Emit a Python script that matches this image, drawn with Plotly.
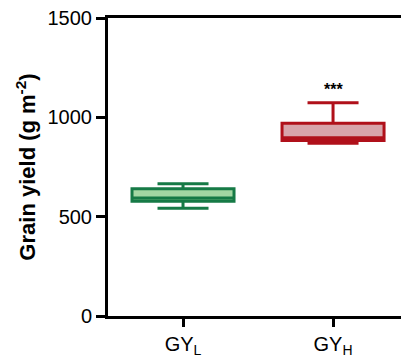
import plotly.graph_objects as go

categories = ["GY<sub>L</sub>", "GY<sub>H</sub>"]
lower = [542, 870]
q1 = [578, 884]
median = [594, 897]
q3 = [640, 970]
upper = [666, 1074]
line_colors = ["#167a46", "#b0101a"]
fill_colors = ["#a3d7a3", "#d8a4aa"]
sig_labels = ["", "***"]
yticks = [0, 500, 1000, 1500]

fig = go.Figure()
for i, c in enumerate(categories):
    fig.add_trace(go.Box(
        x=[c], q1=[q1[i]], median=[median[i]], q3=[q3[i]],
        lowerfence=[lower[i]], upperfence=[upper[i]],
        width=0.68, whiskerwidth=0.5,
        line=dict(color=line_colors[i], width=3),
        fillcolor=fill_colors[i], showlegend=False, boxpoints=False,
        hoverinfo="skip",
    ))
    if sig_labels[i]:
        fig.add_annotation(x=c, y=upper[i], text="<b>" + sig_labels[i] + "</b>", showarrow=False,
                           yshift=13, font=dict(family="Liberation Sans, Arial", size=16, color="black"))

fig.update_layout(
    width=401, height=358,
    margin=dict(l=108, r=0, t=17.5, b=38.5),
    paper_bgcolor="white", plot_bgcolor="white",
    font=dict(family="Liberation Sans, Arial", size=20, color="black"),
)
fig.update_xaxes(
    type="category", categoryorder="array", categoryarray=categories,
    range=[-0.5, 1.453],
    showline=True, linecolor="black", linewidth=3, mirror=True,
    ticks="outside", ticklen=8, tickwidth=3, tickcolor="black",
    showgrid=False, zeroline=False,
    tickfont=dict(size=20),
)
fig.update_yaxes(
    range=[0, 1500], tickvals=yticks,
    showline=True, linecolor="black", linewidth=3,
    ticks="outside", ticklen=9, tickwidth=3, tickcolor="black",
    showgrid=False, zeroline=False,
    tickfont=dict(size=20),
    title=dict(text="<b>Grain yield (g m<sup>-2</sup>)</b>", font=dict(size=22), standoff=6),
)
fig.write_html("out.html")
